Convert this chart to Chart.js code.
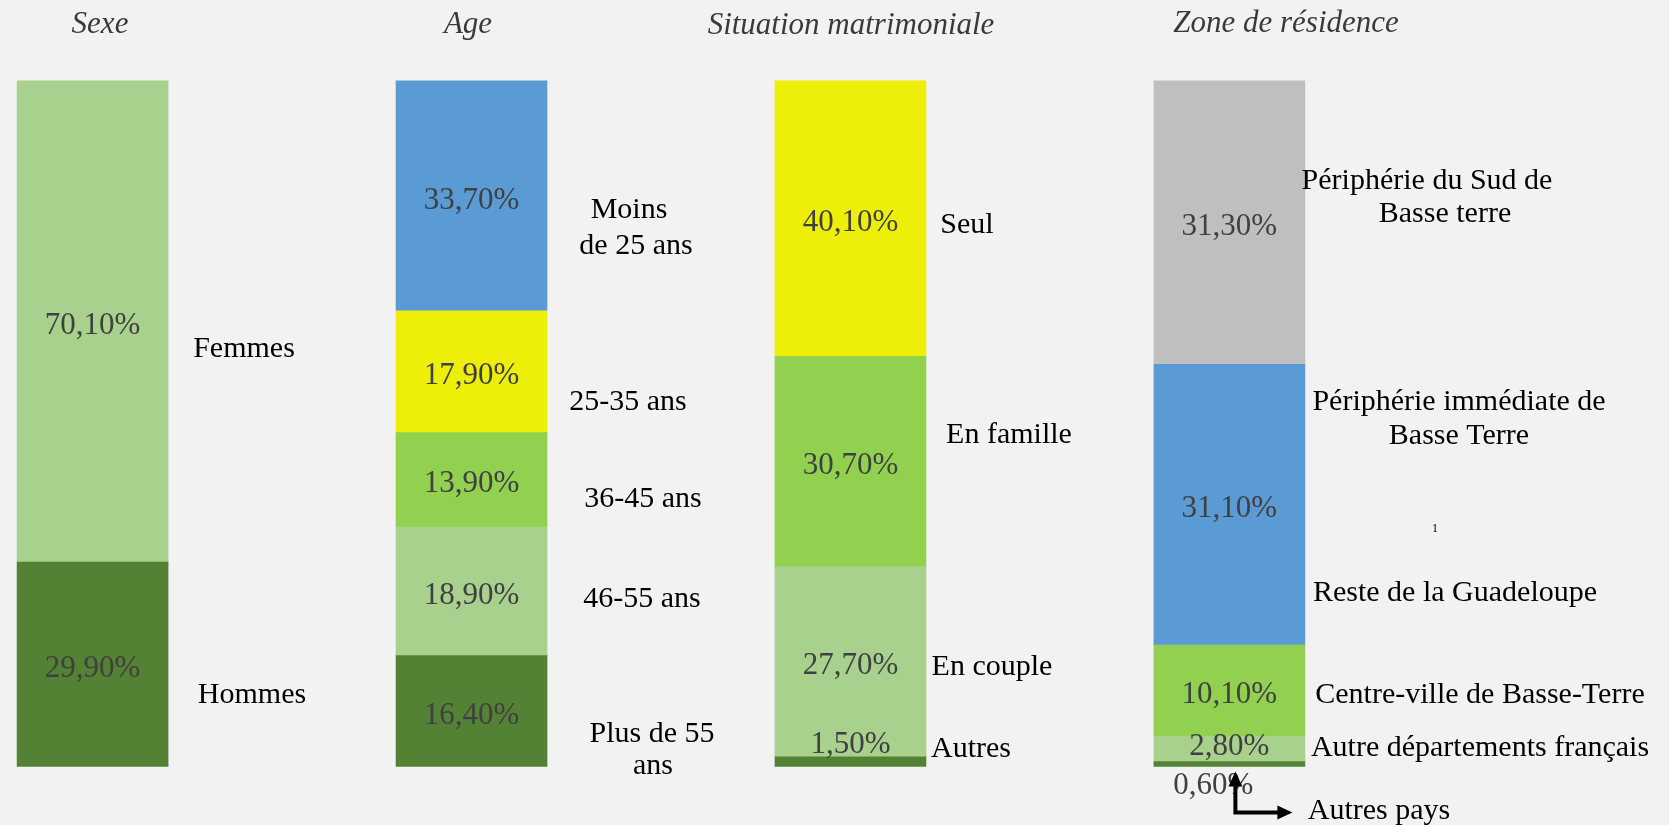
<!DOCTYPE html>
<html>
<head>
<meta charset="utf-8">
<script src="https://cdn.jsdelivr.net/npm/chart.js@4/dist/chart.umd.min.js"></script>
<style>
  html, body { margin: 0; padding: 0; background: #F2F2F2; }
  canvas { display: block; background: #F2F2F2; }
</style>
</head>
<body>
<canvas id="c" width="1669" height="825"></canvas>
<script>
// ---- Data ----
const columns = ['Sexe', 'Age', 'Situation matrimoniale', 'Zone de résidence'];

const sexeLabels = ['Femmes', 'Hommes'];
const sexeValues = [70.1, 29.9];

const ageLabels = ['Moins\nde 25 ans', '25-35 ans', '36-45 ans', '46-55 ans', 'Plus de 55\nans'];
const ageValues = [33.7, 17.9, 13.9, 18.9, 16.4];

const matriLabels = ['Seul', 'En famille', 'En couple', 'Autres'];
const matriValues = [40.1, 30.7, 27.7, 1.5];

const zoneLabels = ['Périphérie du Sud de\nBasse terre', 'Périphérie immédiate de\nBasse Terre', 'Centre-ville de Basse-Terre', 'Autre départements français', 'Autres pays'];
const zoneValues = [31.3, 31.1, 10.1, 2.8, 0.6];

const extraZoneLabel = 'Reste de la Guadeloupe';
const footnoteMark = '1';

// ---- Styles ----
const sexeColors  = ['#A9D18E', '#548235'];
const ageColors   = ['#5B9BD5', '#EDEF08', '#92D050', '#A9D18E', '#548235'];
const matriColors = ['#EDEF08', '#92D050', '#A9D18E', '#548235'];
const zoneColors  = ['#BFBFBF', '#5B9BD5', '#92D050', '#A9D18E', '#548235'];

const groups = [
  { labels: sexeLabels,  values: sexeValues,  colors: sexeColors },
  { labels: ageLabels,   values: ageValues,   colors: ageColors },
  { labels: matriLabels, values: matriValues, colors: matriColors },
  { labels: zoneLabels,  values: zoneValues,  colors: zoneColors },
];

// Layout of text (pixel positions of text line centres)
const titlePos = [[100, 25], [468, 25], [851, 26], [1286, 24]];
const labelPos = [
  [ [[244, 349]], [[252, 695]] ],
  [ [[629, 210], [636, 246]], [[628, 402]], [[643, 499]], [[642, 599]], [[652, 734], [653, 766]] ],
  [ [[967, 225]], [[1009, 435]], [[992, 667]], [[971, 749]] ],
  [ [[1427, 181], [1445, 214]], [[1459, 402], [1459, 436]], [[1480, 695]], [[1480, 748]], [[1379, 811]] ],
];
const extraPos = [1455, 593];
const footPos = [1435, 529];
const valueOffsets = { '2-3': [0, -16], '3-3': [0, -1], '3-4': [-16, 22] };

// ---- Build datasets (100% stacked per column) ----
const datasets = [];
groups.forEach((g, c) => {
  const total = g.values.reduce((a, b) => a + b, 0);
  g.values.forEach((v, i) => {
    const data = columns.map(() => null);
    data[c] = v / total * 100;
    datasets.push({
      label: g.labels[i].replace('\n', ' '),
      data,
      backgroundColor: g.colors[i],
      borderWidth: 0,
      barThickness: 151,
      clip: false,
      col: c, seg: i, raw: v,
    });
  });
});

const fmt = v => v.toFixed(2).replace('.', ',') + '%';

const annotPlugin = {
  id: 'annot',
  afterDatasetsDraw(chart) {
    const ctx = chart.ctx;
    ctx.save();
    ctx.textAlign = 'center';
    ctx.textBaseline = 'middle';
    // value labels
    ctx.font = '31px "Liberation Serif"';
    ctx.fillStyle = '#404040';
    chart.data.datasets.forEach((ds, di) => {
      const el = chart.getDatasetMeta(di).data[ds.col];
      const off = valueOffsets[ds.col + '-' + ds.seg] || [0, 5];
      ctx.fillText(fmt(ds.raw), el.x + off[0], (el.y + el.base) / 2 + off[1]);
    });
    // titles
    ctx.font = 'italic 31px "Liberation Serif"';
    ctx.fillStyle = '#3A3A3A';
    columns.forEach((t, i) => ctx.fillText(t, titlePos[i][0], titlePos[i][1]));
    // category labels
    ctx.font = '30px "Liberation Serif"';
    ctx.fillStyle = '#000000';
    groups.forEach((g, c) => {
      g.labels.forEach((lab, i) => {
        lab.split('\n').forEach((line, k) => {
          const p = labelPos[c][i][k];
          ctx.fillText(line, p[0], p[1]);
        });
      });
    });
    ctx.fillText(extraZoneLabel, extraPos[0], extraPos[1]);
    ctx.font = '12px "Liberation Serif"';
    ctx.fillText(footnoteMark, footPos[0], footPos[1]);
    // arrow to the smallest zone segment
    const zMeta = chart.getDatasetMeta(chart.data.datasets.length - 1);
    const zEl = zMeta.data[3];
    const bottom = Math.max(zEl.y, zEl.base);
    const ax = zEl.x + 6, tipY = bottom + 5, cornerY = bottom + 46, tipX = zEl.x + 63;
    ctx.strokeStyle = '#000';
    ctx.fillStyle = '#000';
    ctx.lineWidth = 4;
    ctx.lineCap = 'butt';
    ctx.beginPath();
    ctx.moveTo(ax, tipY + 10);
    ctx.lineTo(ax, cornerY);
    ctx.lineTo(tipX - 10, cornerY);
    ctx.stroke();
    ctx.beginPath();
    ctx.moveTo(ax, tipY); ctx.lineTo(ax - 7, tipY + 15); ctx.lineTo(ax + 7, tipY + 15); ctx.closePath(); ctx.fill();
    ctx.beginPath();
    ctx.moveTo(tipX, cornerY); ctx.lineTo(tipX - 15, cornerY - 7); ctx.lineTo(tipX - 15, cornerY + 7); ctx.closePath(); ctx.fill();
    ctx.restore();
  }
};

new Chart(document.getElementById('c'), {
  type: 'bar',
  data: { labels: columns, datasets },
  options: {
    responsive: false,
    devicePixelRatio: 1,
    animation: false,
    events: [],
    layout: { padding: { left: 92.6, right: 439.6, top: 80.9, bottom: 58.6 } },
    plugins: { legend: { display: false }, tooltip: { enabled: false }, title: { display: false } },
    scales: {
      x: { type: 'category', stacked: true, offset: false, display: false },
      y: { stacked: true, reverse: true, min: 0, max: 100, display: false },
    },
  },
  plugins: [annotPlugin],
});
</script>
</body>
</html>
